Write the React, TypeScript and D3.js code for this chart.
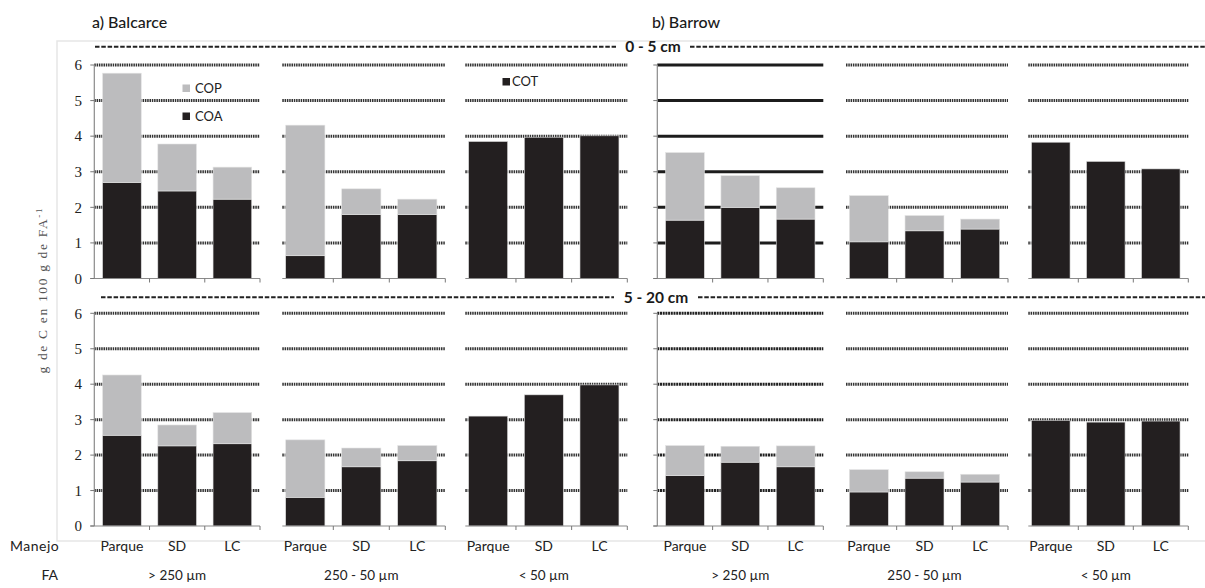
import React from "react";
import * as d3 from "d3";

const categories = ["Parque", "SD", "LC"];
const fractions = ["> 250 \u00b5m", "250 - 50 \u00b5m", "< 50 \u00b5m"];
const sites = ["a) Balcarce", "b) Barrow"];
const depths = ["0 - 5 cm", "5 - 20 cm"];
const yTicks = [0, 1, 2, 3, 4, 5, 6];

// 0-5 cm, panels: Balcarce >250, 250-50, <50 (COT), Barrow >250, 250-50, <50 (COT)
const coaTop = [
  [2.70, 2.46, 2.23],
  [0.64, 1.80, 1.80],
  [3.85, 3.97, 4.01],
  [1.64, 1.99, 1.67],
  [1.03, 1.34, 1.39],
  [3.83, 3.29, 3.08],
];
const copTop = [
  [3.07, 1.32, 0.90],
  [3.67, 0.72, 0.43],
  [0, 0, 0],
  [1.90, 0.90, 0.88],
  [1.30, 0.43, 0.28],
  [0, 0, 0],
];
// 5-20 cm
const coaBottom = [
  [2.56, 2.26, 2.32],
  [0.81, 1.67, 1.84],
  [3.10, 3.70, 3.98],
  [1.42, 1.80, 1.67],
  [0.96, 1.35, 1.24],
  [2.98, 2.93, 2.96],
];
const copBottom = [
  [1.70, 0.59, 0.88],
  [1.62, 0.53, 0.43],
  [0, 0, 0],
  [0.85, 0.45, 0.59],
  [0.63, 0.18, 0.22],
  [0, 0, 0],
];

const panelX = [
  [94.3, 260],
  [277.3, 445.3],
  [460.3, 627.3],
  [657.3, 823.3],
  [841, 1008],
  [1023.3, 1188.3],
];
const rowsY = [
  [278.5, 65],
  [526, 313.3],
];

const BLACK = "#231f20";
const GRAY = "#bcbcbe";
const SANS = "Lato, 'Open Sans', sans-serif";
const SERIF = "'Liberation Serif', 'DejaVu Serif', serif";

function Panel({ p, r }: { p: number; r: number }) {
  const [x0, x1] = panelX[p];
  const y = d3.scaleLinear().domain([0, 6]).range(rowsY[r]);
  const x = d3.scaleBand<string>().domain(categories).range([x0, x1]).paddingInner(0.3).paddingOuter(0.15);
  const step = x.step();
  const hasAxis = p === 0 || p === 3;
  const gx0 = hasAxis ? x0 : x0 + 5;
  const coa = r === 0 ? coaTop[p] : coaBottom[p];
  const cop = r === 0 ? copTop[p] : copBottom[p];
  const solid = r === 0 && p === 3;
  const denseDark = r === 1 && p === 3;
  return (
    <g>
      {yTicks.filter((t) => t > 0).map((t) => (
        <line
          key={t}
          x1={gx0}
          x2={x1}
          y1={y(t)}
          y2={y(t)}
          stroke={solid ? "#1c1c1c" : denseDark ? "#222" : "#333"}
          strokeWidth={solid ? 3 : 3}
          strokeDasharray={solid ? undefined : denseDark ? "2 0.7" : "1.5 0.8"}
        />
      ))}
      {categories.map((c, i) => (
        <g key={c}>
          <rect
            x={x(c)}
            width={x.bandwidth()}
            y={y(coa[i])}
            height={y(0) - y(coa[i])}
            fill={BLACK}
            stroke="#ddd"
            strokeWidth={0.6}
          />
          {cop[i] > 0 && (
            <rect
              x={x(c)}
              width={x.bandwidth()}
              y={y(coa[i] + cop[i])}
              height={y(coa[i]) - y(coa[i] + cop[i])}
              fill={GRAY}
              stroke="#e4e4e4"
              strokeWidth={0.6}
            />
          )}
        </g>
      ))}
      <line x1={hasAxis ? x0 - 4 : gx0} x2={x1} y1={y(0)} y2={y(0)} stroke="#8a8a8a" strokeWidth={1.2} />
      {[1, 2, 3].map((k) => (
        <line key={k} x1={x0 + k * step} x2={x0 + k * step} y1={y(0)} y2={y(0) + 4} stroke="#777" strokeWidth={1} />
      ))}
      {hasAxis && (
        <g>
          <line x1={x0} x2={x0} y1={y(0)} y2={y(6)} stroke="#8a8a8a" strokeWidth={1.2} />
          {yTicks.map((t) => (
            <line key={t} x1={x0 - 4} x2={x0} y1={y(t)} y2={y(t)} stroke="#777" strokeWidth={1} />
          ))}
        </g>
      )}
      {p === 0 &&
        yTicks.map((t) => (
          <text
            key={t}
            x={82}
            y={y(t)}
            dy="0.35em"
            textAnchor="end"
            fontFamily={SERIF}
            fontSize={15}
            fill="#222"
          >
            {t}
          </text>
        ))}
      {r === 1 &&
        categories.map((c) => (
          <text
            key={c}
            x={(x(c) as number) + x.bandwidth() / 2}
            y={551}
            textAnchor="middle"
            fontFamily={SANS}
            fontSize={14}
            fill="#222"
          >
            {c}
          </text>
        ))}
      {r === 1 && (
        <text x={(x0 + x1) / 2} y={580} textAnchor="middle" fontFamily={SANS} fontSize={13.5} fill="#222">
          {fractions[p % 3]}
        </text>
      )}
    </g>
  );
}

function Separator({ yPos, label, xStart, gapL, gapR }: { yPos: number; label: string; xStart: number; gapL: number; gapR: number }) {
  return (
    <g>
      <line x1={xStart} x2={gapL} y1={yPos} y2={yPos} stroke="#222" strokeWidth={2} strokeDasharray="4.5 1.8" />
      <line x1={gapR} x2={1205} y1={yPos} y2={yPos} stroke="#222" strokeWidth={2} strokeDasharray="4.5 1.8" />
      <text x={(gapL + gapR) / 2} y={yPos} dy="0.35em" textAnchor="middle" fontFamily={SANS} fontWeight={700} fontSize={15.5} fill="#1a1a1a">
        {label}
      </text>
    </g>
  );
}

export default function App() {
  return (
    <svg width={1205} height={588} style={{ position: "absolute", left: 0, top: 0, background: "#fff" }}>
      <rect x={57} y={41} width={1150} height={500} fill="none" stroke="#e6e6e6" strokeWidth={1.5} />
      <text x={92} y={28} fontFamily={SANS} fontSize={16} fontWeight={500} fill="#1a1a1a">{sites[0]}</text>
      <text x={652} y={28} fontFamily={SANS} fontSize={16} fontWeight={500} fill="#1a1a1a">{sites[1]}</text>
      <Separator yPos={46.7} label={depths[0]} xStart={95} gapL={616} gapR={690} />
      <Separator yPos={297.3} label={depths[1]} xStart={101} gapL={614} gapR={698} />
      {[0, 1].map((r) => [0, 1, 2, 3, 4, 5].map((p) => <Panel key={`${r}-${p}`} p={p} r={r} />))}
      {/* legends */}
      <rect x={182.5} y={84.5} width={7.5} height={7.5} fill={GRAY} />
      <text x={195} y={92.5} fontFamily={SANS} fontSize={13} fill="#222">COP</text>
      <rect x={182.5} y={112.5} width={7.5} height={7.5} fill={BLACK} />
      <text x={195} y={120.5} fontFamily={SANS} fontSize={13} fill="#222">COA</text>
      <rect x={502.5} y={78} width={7.5} height={7.5} fill={BLACK} />
      <text x={512} y={86} fontFamily={SANS} fontSize={13} fill="#222">COT</text>
      {/* y label */}
      <text
        transform="translate(47,291) rotate(-90)"
        textAnchor="middle"
        fontFamily={SERIF}
        fontSize={13.5}
        fill="#555"
        textLength={165}
        lengthAdjust="spacing"
      >
        g de C en 100 g de FA<tspan dy={-5} fontSize={9}>-1</tspan>
      </text>
      <text x={10} y={551} fontFamily={SANS} fontSize={14} fill="#222" letterSpacing={0.5}>Manejo</text>
      <text x={58} y={580} textAnchor="end" fontFamily={SANS} fontSize={14} fill="#222">FA</text>
    </svg>
  );
}
